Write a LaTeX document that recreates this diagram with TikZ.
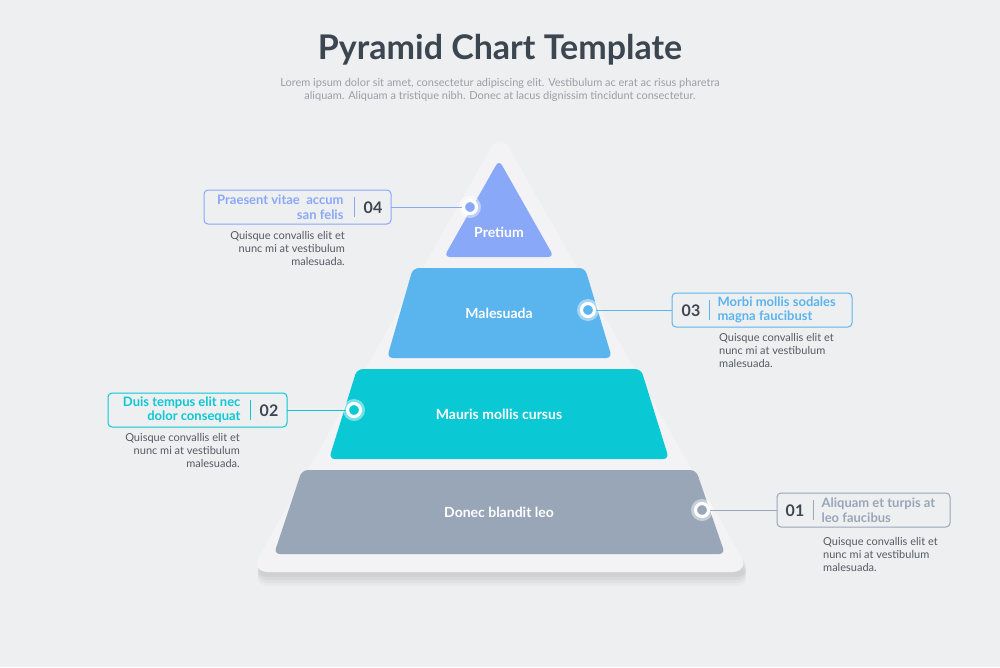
\documentclass[tikz,border=0pt]{standalone}
\usepackage{fontspec}
\setmainfont{Lato}
\definecolor{bg}{HTML}{EEEFF1}
\definecolor{tri}{HTML}{F3F3F5}
\definecolor{cA}{HTML}{8AA8F8}
\definecolor{cB}{HTML}{5AB4EE}
\definecolor{cC}{HTML}{0AC8D4}
\definecolor{cD}{HTML}{98A6B8}
\definecolor{dark}{HTML}{3C4650}
\definecolor{body}{HTML}{555B63}
\definecolor{sub}{HTML}{9A9EA5}
\tikzset{
  tier/.style={fill=#1, draw=none, rounded corners=6pt},
  tierlabel/.style={text=white, font=\fontsize{14}{16}\selectfont\bfseries},
  dot/.style={circle, fill=#1, draw=white, line width=3.2pt, minimum size=13pt, inner sep=0pt},
  halo/.style={circle, fill=white, opacity=0.45, minimum size=22pt, inner sep=0pt},
  lbox/.style={draw=#1, line width=1pt, rounded corners=4pt, fill=none},
  num/.style={text=dark, font=\fontsize{16}{18}\selectfont\bfseries},
  desc/.style={text=body, font=\fontsize{11}{13}\selectfont, inner sep=0pt},
  head/.style={text=#1, font=\fontsize{13}{14.5}\selectfont\bfseries},
}
\begin{document}
\begin{tikzpicture}[x=1pt,y=-1pt]
\fill[bg] (0,0) rectangle (1000,667);
\useasboundingbox (0,0) rectangle (1000,667);
% title
\node (title) at (500,50) {\fontsize{34}{36}\selectfont\bfseries\color{dark}Pyramid Chart Template};
\node[align=center, text=sub, font=\fontsize{11}{13}\selectfont] (subt) at (500,90) {Lorem ipsum dolor sit amet, consectetur adipiscing elit. Vestibulum ac erat ac risus pharetra\\aliquam. Aliquam a tristique nibh. Donec at lacus dignissim tincidunt consectetur.};
% outer triangle with shadow
\foreach \o/\op in {12/0.025,9/0.03,6/0.035,3/0.04}{
  \fill[black, opacity=\op, rounded corners=18pt] (500,136+\o) -- (753,574+\o) -- (251,574+\o) -- cycle;}
\fill[tri, rounded corners=18pt] (500,132) -- (750,572) -- (250,572) -- cycle;
% tiers
\fill[tier=cA] (499,160) -- (554,257) -- (444,257) -- cycle;
\fill[tier=cB] (413,268) -- (585,268) -- (612,358) -- (387,358) -- cycle;
\fill[tier=cC] (357,369) -- (641,369) -- (669,459) -- (329,459) -- cycle;
\fill[tier=cD] (302,470) -- (696,470) -- (725,554) -- (274,554) -- cycle;
\node[tierlabel] (t4) at (499,232) {Pretium};
\node[tierlabel] (t3) at (499,313) {Malesuada};
\node[tierlabel] (t2) at (499,414) {Mauris mollis cursus};
\node[tierlabel] (t1) at (499,512) {Donec blandit leo};
% boxes
\draw[lbox=cA] (204,190) rectangle (391,224);
\draw[lbox=cB] (672,293) rectangle (852,327);
\draw[lbox=cC] (108,393) rectangle (287,427);
\draw[lbox=cD] (777,493) rectangle (950,527);
\coordinate (b4) at (391,207); \coordinate (b3) at (672,310);
\coordinate (b2) at (287,410); \coordinate (b1) at (777,510);
% dividers
\draw[cA, line width=0.8pt] (354,197) -- (354,217);
\draw[cB, line width=0.8pt] (709,300) -- (709,320);
\draw[cC, line width=0.8pt] (250,400) -- (250,420);
\draw[cD, line width=0.8pt] (813,500) -- (813,520);
% numbers
\node[num] (n4) at (373,207.5) {04};
\node[num] (n3) at (691,310.5) {03};
\node[num] (n2) at (269,410.5) {02};
\node[num] (n1) at (795,510.5) {01};
% box titles
\node[anchor=east, align=right, head=cA] (h4) at (347,207) {Praesent vitae\ \ accum\\san felis};
\node[anchor=west, align=left, head=cB] (h3) at (714,310) {Morbi mollis sodales\\magna faucibust};
\node[anchor=east, align=right, head=cC] (h2) at (244,410) {Duis tempus elit nec\\dolor consequat};
\node[anchor=west, align=left, head=cD] (h1) at (818,510) {Aliquam et turpis at\\leo faucibus};
% connectors & dots
\node[halo] (g4) at (470,207) {};
\node[halo] (g3) at (588,310) {};
\node[halo] (g2) at (354,410) {};
\node[halo] (g1) at (702,510) {};
\draw[cA, line width=1pt] (g4.center) -- (b4);
\draw[cB, line width=1pt] (g3.center) -- (b3);
\draw[cC, line width=1pt] (g2.center) -- (b2);
\draw[cD, line width=1pt] (g1.center) -- (b1);
\node[dot=cA] (d4) at (470,207) {};
\node[dot=cB] (d3) at (588,310) {};
\node[dot=cC] (d2) at (354,410) {};
\node[dot=cD] (d1) at (702,510) {};
% descriptions
\node[desc, anchor=north east, align=right] (q4) at (345,231) {Quisque convallis elit et\\nunc mi at vestibulum\\malesuada.};
\node[desc, anchor=north west, align=left] (q3) at (719,333) {Quisque convallis elit et\\nunc mi at vestibulum\\malesuada.};
\node[desc, anchor=north east, align=right] (q2) at (240,433) {Quisque convallis elit et\\nunc mi at vestibulum\\malesuada.};
\node[desc, anchor=north west, align=left] (q1) at (823,537) {Quisque convallis elit et\\nunc mi at vestibulum\\malesuada.};
\end{tikzpicture}
\end{document}
